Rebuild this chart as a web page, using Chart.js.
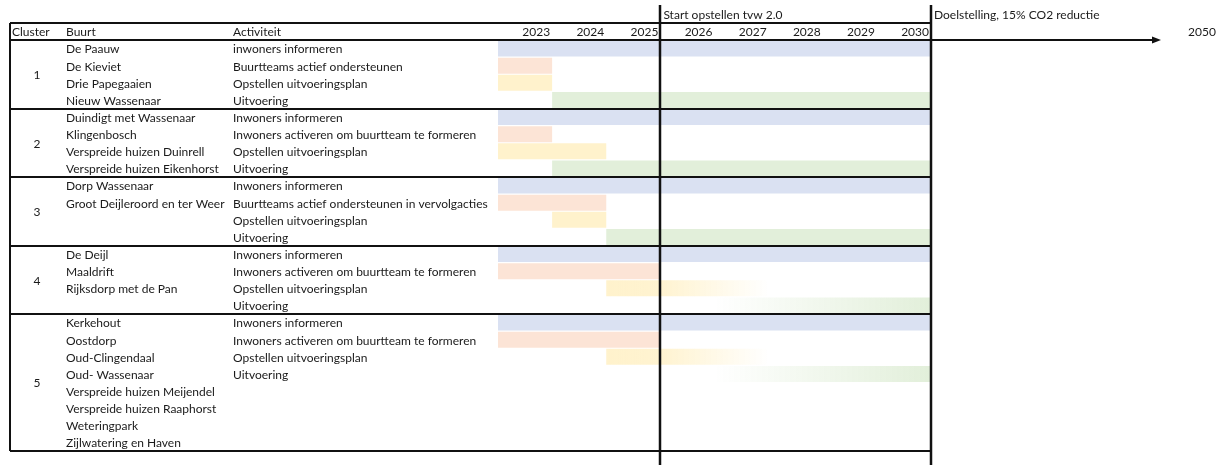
<!DOCTYPE html>
<html>
<head>
<meta charset="utf-8">
<script src="https://cdn.jsdelivr.net/npm/chart.js@4"></script>
<style>
  html, body { margin: 0; background: #fff; }
  canvas { display: block; }
</style>
</head>
<body>
<canvas id="gantt" width="1217" height="465"></canvas>
<script>
// --- data -------------------------------------------------------------
const years = [2023, 2024, 2025, 2026, 2027, 2028, 2029, 2030];
const horizonLabel = '2050';
const clusters = ['1', '2', '3', '4', '5'];
const buurten = [
  ['De Paauw', 'De Kieviet', 'Drie Papegaaien', 'Nieuw Wassenaar'],
  ['Duindigt met Wassenaar', 'Klingenbosch', 'Verspreide huizen Duinrell', 'Verspreide huizen Eikenhorst'],
  ['Dorp Wassenaar', 'Groot Deijleroord en ter Weer'],
  ['De Deijl', 'Maaldrift', 'Rijksdorp met de Pan'],
  ['Kerkehout', 'Oostdorp', 'Oud-Clingendaal', 'Oud- Wassenaar', 'Verspreide huizen Meijendel',
   'Verspreide huizen Raaphorst', 'Weteringpark', 'Zijlwatering en Haven']
];
const activiteiten = [
  ['inwoners informeren', 'Buurtteams actief ondersteunen', 'Opstellen uitvoeringsplan', 'Uitvoering'],
  ['Inwoners informeren', 'Inwoners activeren om buurtteam te formeren', 'Opstellen uitvoeringsplan', 'Uitvoering'],
  ['Inwoners informeren', 'Buurtteams actief ondersteunen in vervolgacties', 'Opstellen uitvoeringsplan', 'Uitvoering'],
  ['Inwoners informeren', 'Inwoners activeren om buurtteam te formeren', 'Opstellen uitvoeringsplan', 'Uitvoering'],
  ['Inwoners informeren', 'Inwoners activeren om buurtteam te formeren', 'Opstellen uitvoeringsplan', 'Uitvoering']
];
// periods per cluster as [from, to) in years (2031 = end of 2030)
const informeren = [[2023, 2031], [2023, 2031], [2023, 2031], [2023, 2031], [2023, 2031]];
const activeren  = [[2023, 2024], [2023, 2024], [2023, 2025], [2023, 2026], [2023, 2026]];
const opstellen  = [[2023, 2024], [2023, 2025], [2024, 2025], [2025, 2028], [2025, 2028]];
const uitvoering = [[2024, 2031], [2024, 2031], [2025, 2031], [2027, 2031], [2027, 2031]];
const opstellenVervaagt = [false, false, false, true, true];   // fades out after 2026
const uitvoeringGeleidelijk = [false, false, false, true, true]; // fades in
const milestones = ['Start opstellen tvw 2.0', 'Doelstelling, 15% CO2 reductie'];
const milestoneYears = [2026, 2031];

// --- rows -------------------------------------------------------------
const rows = [];
const clusterStart = [];
clusters.forEach((c, ci) => {
  clusterStart.push(rows.length);
  const n = Math.max(buurten[ci].length, activiteiten[ci].length);
  for (let k = 0; k < n; k++) {
    rows.push({ cluster: ci, buurt: buurten[ci][k] || '', act: activiteiten[ci][k] || '' });
  }
});

function rowData(periods, slot, filter) {
  const d = rows.map(() => null);
  periods.forEach((p, ci) => {
    if (filter && !filter(ci)) return;
    d[clusterStart[ci] + slot] = p;
  });
  return d;
}

const BLUE = 'rgb(218,225,242)';
const ORANGE = 'rgb(252,228,214)';
const YELLOW = 'rgb(255,242,204)';
const GREEN = 'rgb(226,239,218)';

function gradientFill(ctx, from, to, stops) {
  const chart = ctx.chart;
  const x = chart.scales.x;
  if (!chart.chartArea || !x) return stops[stops.length - 1][1];
  const g = chart.ctx.createLinearGradient(x.getPixelForValue(from), 0, x.getPixelForValue(to), 0);
  stops.forEach(s => g.addColorStop(s[0], s[1]));
  return g;
}

const datasets = [
  { label: 'Informeren', data: rowData(informeren, 0), backgroundColor: BLUE },
  { label: 'Activeren', data: rowData(activeren, 1), backgroundColor: ORANGE },
  { label: 'Opstellen', data: rowData(opstellen, 2, ci => !opstellenVervaagt[ci]), backgroundColor: YELLOW },
  {
    label: 'Opstellen (vervagend)', data: rowData(opstellen, 2, ci => opstellenVervaagt[ci]),
    backgroundColor: ctx => gradientFill(ctx, 2025, 2028,
      [[0, YELLOW], [0.35, 'rgba(255,242,204,0.9)'], [1, 'rgba(255,242,204,0)']])
  },
  { label: 'Uitvoering', data: rowData(uitvoering, 3, ci => !uitvoeringGeleidelijk[ci]), backgroundColor: GREEN },
  {
    label: 'Uitvoering (geleidelijk)', data: rowData(uitvoering, 3, ci => uitvoeringGeleidelijk[ci]),
    backgroundColor: ctx => gradientFill(ctx, 2027, 2031,
      [[0, 'rgba(226,239,218,0)'], [1, GREEN]])
  }
];

// --- table drawing ----------------------------------------------------
const FONT = '12px Lato';
const INK = '#1a1a1a';
const tableLeft = 10;
const colX = { cluster: 12, buurt: 66, act: 233 };

const tablePlugin = {
  id: 'table',
  afterDraw(chart) {
    const { ctx, scales: { x, y }, chartArea } = chart;
    const rowH = (y.bottom - y.top) / rows.length;
    const headTop = chartArea.top - rowH;
    const right = x.getPixelForValue(2031);
    ctx.save();
    ctx.font = FONT;
    ctx.fillStyle = INK;
    ctx.textBaseline = 'middle';

    // header
    const hy = headTop + rowH / 2 + 1;
    ctx.textAlign = 'left';
    ctx.fillText('Cluster', colX.cluster, hy);
    ctx.fillText('Buurt', colX.buurt, hy);
    ctx.fillText('Activiteit', colX.act, hy);
    ctx.textAlign = 'right';
    years.forEach(yr => ctx.fillText(String(yr), x.getPixelForValue(yr + 1) - 2, hy));
    ctx.textAlign = 'left';
    ctx.fillText(horizonLabel, 1188, hy);

    // milestones
    milestones.forEach((m, i) => ctx.fillText(m, x.getPixelForValue(milestoneYears[i]) + 3, 15));

    // rows
    rows.forEach((r, i) => {
      const cy = y.getPixelForValue(i) + 1;
      ctx.fillText(r.buurt, colX.buurt, cy);
      ctx.fillText(r.act, colX.act, cy);
    });
    clusters.forEach((c, ci) => {
      const first = clusterStart[ci];
      const last = ci + 1 < clusters.length ? clusterStart[ci + 1] - 1 : rows.length - 1;
      const cy = (y.getPixelForValue(first) + y.getPixelForValue(last)) / 2 + 1;
      ctx.textAlign = 'center';
      ctx.fillText(c, 37, cy);
    });

    // lines
    ctx.strokeStyle = '#111';
    ctx.lineWidth = 2;
    const hline = (yy, x0, x1) => { ctx.beginPath(); ctx.moveTo(x0, yy); ctx.lineTo(x1, yy); ctx.stroke(); };
    hline(Math.round(headTop), tableLeft, right);
    clusterStart.forEach((s, ci) => {
      if (ci === 0) return;
      hline(Math.round(y.getPixelForValue(s) - rowH / 2), tableLeft, right);
    });
    hline(Math.round(chartArea.bottom), tableLeft, right);
    // header bottom becomes the time arrow
    hline(Math.round(chartArea.top), tableLeft, 1154);
    ctx.fillStyle = '#111';
    ctx.beginPath();
    const ay = Math.round(chartArea.top);
    ctx.moveTo(1161, ay);
    ctx.lineTo(1152, ay - 3.5);
    ctx.lineTo(1152, ay + 3.5);
    ctx.closePath();
    ctx.fill();

    // left border
    ctx.beginPath();
    ctx.moveTo(tableLeft, headTop);
    ctx.lineTo(tableLeft, chartArea.bottom);
    ctx.stroke();

    // milestone verticals
    ctx.lineWidth = 2.5;
    milestoneYears.forEach(yr => {
      const px = Math.round(x.getPixelForValue(yr));
      ctx.beginPath();
      ctx.moveTo(px, 5);
      ctx.lineTo(px, chart.height);
      ctx.stroke();
    });
    ctx.restore();
  }
};

new Chart(document.getElementById('gantt'), {
  type: 'bar',
  data: { labels: rows.map((r, i) => String(i)), datasets },
  options: {
    indexAxis: 'y',
    responsive: false,
    animation: false,
    layout: { padding: { left: 498, right: 286, top: 40, bottom: 14 } },
    datasets: { bar: { grouped: false, barPercentage: 0.94, categoryPercentage: 1, borderWidth: 0 } },
    plugins: { legend: { display: false }, tooltip: { enabled: false } },
    scales: {
      x: { type: 'linear', min: 2023, max: 2031, display: false },
      y: { display: false }
    }
  },
  plugins: [tablePlugin]
});
</script>
</body>
</html>
